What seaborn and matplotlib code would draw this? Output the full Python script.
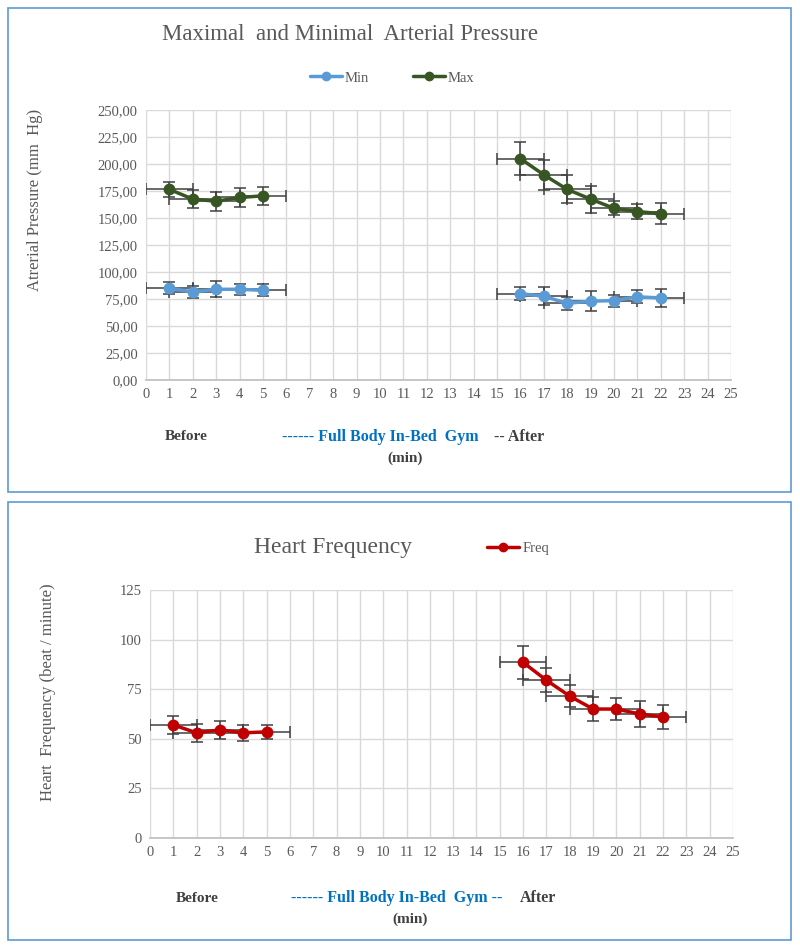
import numpy as np
import pandas as pd
import seaborn as sns
import matplotlib.pyplot as plt
from matplotlib.patches import Rectangle
from matplotlib.lines import Line2D

# data
t_before = [1, 2, 3, 4, 5]
t_after = [16, 17, 18, 19, 20, 21, 22]

max_before = [176.5, 167.5, 165.5, 169, 170.5]
max_before_err = [7, 8, 9, 9, 8]
max_after = [205, 190, 176.5, 167.5, 159, 156, 154]
max_after_err = [15, 14, 13, 12.5, 6.5, 7, 10]

min_before = [85, 81.5, 84, 84, 83]
min_before_err = [5.5, 5.5, 7.5, 5, 5.5]
min_after = [80, 77.5, 71, 73, 73.5, 77, 76]
min_after_err = [6, 8.5, 6, 9, 5.5, 6, 8]

freq_before = [57, 53, 54.5, 53, 53.5]
freq_before_err = [4.5, 4.5, 4.5, 4, 3.5]
freq_after = [88.5, 79.5, 71.5, 65, 65, 62.5, 61]
freq_after_err = [8.5, 6, 5.5, 6, 5.5, 6.5, 6]

time_err = 1

sns.set_theme(style="white")
plt.rcParams['font.family'] = ['Liberation Serif', 'DejaVu Serif']

c_min = "#5b9bd5"
c_max = "#375623"
c_freq = "#c00000"
c_txt = "#595959"
c_err = "#404040"
c_grid = "#d9d9d9"
c_box = "#5b9bd5"


def make_df(name, tb, vb, ta, va):
    a = pd.DataFrame({"time": tb, "value": vb, "phase": "before"})
    b = pd.DataFrame({"time": ta, "value": va, "phase": "after"})
    d = pd.concat([a, b], ignore_index=True)
    d["series"] = name
    return d


def style_axes(ax, ymax, ystep, fmt):
    ax.set_xlim(0, 25)
    ax.set_ylim(0, ymax)
    ax.set_xticks(range(0, 26))
    ax.set_yticks(np.arange(0, ymax + 0.1, ystep))
    ax.set_yticklabels([fmt(v) for v in np.arange(0, ymax + 0.1, ystep)])
    ax.grid(True, color=c_grid, linewidth=1)
    for s in ["top", "right", "left"]:
        ax.spines[s].set_visible(False)
    ax.spines["bottom"].set_color("#bfbfbf")
    ax.tick_params(axis="both", length=0, labelsize=10.5, colors=c_txt, pad=6)
    ax.set_xlabel("")
    ax.set_ylabel("")
    leg = ax.get_legend()
    if leg is not None:
        leg.remove()


def draw_err(ax, t, v, e):
    ax.errorbar(t, v, yerr=e, xerr=time_err, fmt="none", ecolor=c_err,
                elinewidth=1.1, capsize=4, capthick=1.1, zorder=2)


fig = plt.figure(figsize=(8, 9.48), dpi=100)

# frames
fig.patches.append(Rectangle((8 / 800, 1 - 492 / 948), 783 / 800, 484 / 948,
                             transform=fig.transFigure, fill=False,
                             edgecolor=c_box, linewidth=1.2))
fig.patches.append(Rectangle((8 / 800, 1 - 940 / 948), 783 / 800, 438 / 948,
                             transform=fig.transFigure, fill=False,
                             edgecolor=c_box, linewidth=1.2))

# ---- top chart: arterial pressure
ax1 = fig.add_axes([146 / 800, 1 - 380 / 948, 585 / 800, 270 / 948])
df_p = pd.concat([make_df("Min", t_before, min_before, t_after, min_after),
                  make_df("Max", t_before, max_before, t_after, max_after)])
draw_err(ax1, t_before, max_before, max_before_err)
draw_err(ax1, t_after, max_after, max_after_err)
draw_err(ax1, t_before, min_before, min_before_err)
draw_err(ax1, t_after, min_after, min_after_err)
sns.lineplot(data=df_p, x="time", y="value", hue="series", units="phase",
             estimator=None, palette={"Min": c_min, "Max": c_max},
             marker="o", markersize=8.5, markeredgewidth=0, linewidth=2.5,
             ax=ax1, zorder=3)
style_axes(ax1, 250, 25, lambda v: f"{v:.2f}".replace(".", ","))

fig.text(350 / 800, 1 - 34 / 948, "Maximal  and Minimal  Arterial Pressure",
         ha="center", va="center", fontsize=16.5, color=c_txt)
h1 = [Line2D([], [], color=c_min, lw=2.5, marker="o", markersize=6),
      Line2D([], [], color=c_max, lw=2.5, marker="o", markersize=6)]
fig.legend(h1, ["Min", "Max"], loc="center", bbox_to_anchor=(392 / 800, 1 - 78 / 948),
           ncol=2, frameon=False, fontsize=10.5, handlelength=2.2,
           handletextpad=0.2, columnspacing=3, labelcolor=c_txt)
fig.text(35 / 800, 1 - 200 / 948, "Atrerial Pressure (mm  Hg)", rotation=90,
         ha="center", va="center", fontsize=12, color=c_txt)
fig.text(186 / 800, 1 - 437 / 948, "Before", ha="center", va="center",
         fontsize=11, fontweight="bold", color="#404040")
fig.text(282 / 800, 1 - 437 / 948, "------ Full Body In-Bed  Gym", ha="left", va="center",
         fontsize=11.5, fontweight="bold", color="#0070c0")
fig.text(494 / 800, 1 - 437 / 948, "-- After", ha="left", va="center",
         fontsize=11.5, fontweight="bold", color="#404040")
fig.text(405 / 800, 1 - 458 / 948, "(min)", ha="center", va="center",
         fontsize=11, fontweight="bold", color="#404040")

# ---- bottom chart: heart frequency
ax2 = fig.add_axes([150 / 800, 1 - 838 / 948, 583 / 800, 248 / 948])
df_f = make_df("Freq", t_before, freq_before, t_after, freq_after)
draw_err(ax2, t_before, freq_before, freq_before_err)
draw_err(ax2, t_after, freq_after, freq_after_err)
sns.lineplot(data=df_f, x="time", y="value", units="phase", estimator=None,
             color=c_freq, marker="o", markersize=8.5, markeredgewidth=0,
             linewidth=2.5, ax=ax2, zorder=3)
style_axes(ax2, 125, 25, lambda v: f"{v:.0f}")

fig.text(333 / 800, 1 - 547 / 948, "Heart Frequency", ha="center", va="center",
         fontsize=17, color=c_txt)
h2 = [Line2D([], [], color=c_freq, lw=2.5, marker="o", markersize=6)]
fig.legend(h2, ["Freq"], loc="center", bbox_to_anchor=(518 / 800, 1 - 548 / 948),
           frameon=False, fontsize=10.5, handlelength=2.2, handletextpad=0.2,
           labelcolor=c_txt)
fig.text(48 / 800, 1 - 692 / 948, "Heart  Frequency (beat / minute)", rotation=90,
         ha="center", va="center", fontsize=12, color=c_txt)
fig.text(197 / 800, 1 - 898 / 948, "Before", ha="center", va="center",
         fontsize=11, fontweight="bold", color="#404040")
fig.text(291 / 800, 1 - 898 / 948, "------ Full Body In-Bed  Gym --", ha="left",
         va="center", fontsize=11.5, fontweight="bold", color="#0070c0")
fig.text(520 / 800, 1 - 898 / 948, "After", ha="left", va="center",
         fontsize=11.5, fontweight="bold", color="#404040")
fig.text(410 / 800, 1 - 919 / 948, "(min)", ha="center", va="center",
         fontsize=11, fontweight="bold", color="#404040")

fig.savefig("out.png", dpi=100)
